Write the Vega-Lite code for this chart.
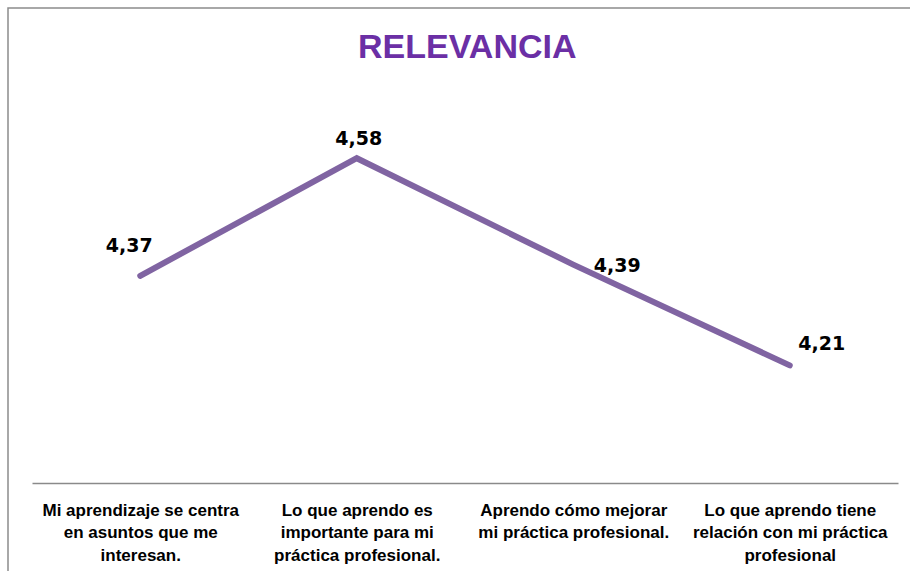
{
  "$schema": "https://vega.github.io/schema/vega-lite/v6.json",
  "width": 912,
  "height": 575,
  "autosize": {"type": "none"},
  "padding": {"left": 8, "top": 8, "right": 0, "bottom": 0},
  "background": "white",
  "config": {
    "view": {"stroke": "#8c8c8c", "strokeWidth": 1.5},
    "locale": {"number": {"decimal": ",", "thousands": ".", "grouping": [3], "currency": ["", " €"]}}
  },
  "title": {
    "text": "RELEVANCIA",
    "font": "Liberation Sans",
    "fontSize": 34,
    "fontWeight": "bold",
    "color": "#6B2FA5",
    "anchor": "start",
    "frame": "group",
    "offset": -50,
    "baseline": "alphabetic",
    "dx": 350,
    "dy": 34
  },
  "data": {
    "values": [
      {"orden": 1, "item": "Mi aprendizaje se centra|en asuntos que me|interesan.", "valor": 4.37},
      {"orden": 2, "item": "Lo que aprendo es|importante para mi|práctica profesional.", "valor": 4.58},
      {"orden": 3, "item": "Aprendo cómo mejorar|mi práctica profesional.", "valor": 4.39},
      {"orden": 4, "item": "Lo que aprendo tiene|relación con mi práctica|profesional", "valor": 4.21}
    ]
  },
  "encoding": {
    "x": {
      "field": "item",
      "type": "nominal",
      "sort": null,
      "scale": {"type": "point", "range": [24, 890], "padding": 0.5},
      "axis": {
        "title": null,
        "domainColor": "#8a8a8a",
        "domainWidth": 1.5,
        "ticks": false,
        "grid": false,
        "labelFont": "Liberation Sans",
        "labelFontWeight": "bold",
        "labelFontSize": 17,
        "labelColor": "black",
        "labelPadding": 19,
        "labelLineHeight": 22.5,
        "labelAngle": 0,
        "labelBaseline": "top",
        "labelLimit": 0,
        "offset": -100,
        "labelExpr": "split(datum.label, '|')"
      }
    },
    "y": {
      "field": "valor",
      "type": "quantitative",
      "scale": {"domain": [4, 4.7], "range": [475, 83], "zero": false, "nice": false},
      "axis": null
    }
  },
  "layer": [
    {"mark": {"type": "line", "color": "#8064A2", "strokeWidth": 6, "strokeCap": "round"}},
    {
      "transform": [{"filter": "datum.orden == 1"}],
      "mark": {"type": "text", "font": "DejaVu Sans", "fontWeight": "bold", "fontSize": 19, "color": "black", "align": "center", "baseline": "middle", "dx": -11, "dy": -30},
      "encoding": {"text": {"field": "valor", "type": "quantitative", "format": ".2f"}}
    },
    {
      "transform": [{"filter": "datum.orden == 2"}],
      "mark": {"type": "text", "font": "DejaVu Sans", "fontWeight": "bold", "fontSize": 19, "color": "black", "align": "center", "baseline": "middle", "dx": 2, "dy": -19},
      "encoding": {"text": {"field": "valor", "type": "quantitative", "format": ".2f"}}
    },
    {
      "transform": [{"filter": "datum.orden == 3"}],
      "mark": {"type": "text", "font": "DejaVu Sans", "fontWeight": "bold", "fontSize": 19, "color": "black", "align": "center", "baseline": "middle", "dx": 44, "dy": 1},
      "encoding": {"text": {"field": "valor", "type": "quantitative", "format": ".2f"}}
    },
    {
      "transform": [{"filter": "datum.orden == 4"}],
      "mark": {"type": "text", "font": "DejaVu Sans", "fontWeight": "bold", "fontSize": 19, "color": "black", "align": "center", "baseline": "middle", "dx": 32, "dy": -21},
      "encoding": {"text": {"field": "valor", "type": "quantitative", "format": ".2f"}}
    }
  ]
}
